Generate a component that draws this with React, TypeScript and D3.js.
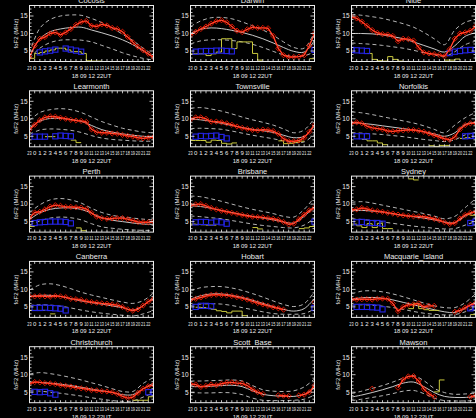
import React from "react";
import * as d3 from "d3";

const stations = [
  "Cocosis", "Darwin", "Niue",
  "Learmonth", "Townsville", "Norfolkis",
  "Perth", "Brisbane", "Sydney",
  "Canberra", "Hobart", "Macquarie_Island",
  "Christchurch", "Scott_Base", "Mawson",
];

const hourTicks = d3.range(-1, 23);
const hourLabels = hourTicks.map((h) => String((h + 24) % 24));
const curveHours = [-1, 1, 3, 5, 7, 9, 11, 13, 15, 17, 19, 21, 23];
const obsHours = d3.range(-1, 24);
const yTicks = [5, 10, 15];
const dateLabel = "18 09 12 22UT";
const yLabel = "foF2 (MHz)";

// monthly median curve (values at curveHours)
const medianCurves = [
  [3.4, 8.5, 10.5, 11.3, 11.7, 11.8, 11.0, 10.2, 9.3, 8.2, 6.8, 5.0, 3.2],
  [10, 11.2, 11.6, 11.4, 10.9, 10.3, 9.5, 8.5, 7.3, 6.0, 4.9, 4.7, 8.0],
  [10, 10, 9.9, 9.6, 9.1, 8.5, 7.6, 6.6, 5.6, 4.7, 6.5, 9.2, 10.2],
  [7.4, 9.3, 10.1, 10.1, 9.8, 9.3, 8.1, 6.9, 6.2, 5.7, 5.3, 5.0, 4.9],
  [9.9, 9.7, 9.3, 8.7, 8.1, 7.5, 7.0, 6.6, 6.1, 5.3, 4.6, 5.0, 8.0],
  [8.8, 8.7, 8.4, 8.0, 7.6, 7.2, 6.8, 6.3, 5.7, 5.0, 6.0, 8.4, 9.0],
  [5.6, 7.5, 8.5, 8.9, 8.9, 8.5, 7.4, 6.1, 5.4, 5.0, 4.6, 4.3, 4.2],
  [9.5, 9.3, 8.8, 8.2, 7.6, 7.0, 6.5, 6.0, 5.5, 4.9, 4.6, 6.5, 9.2],
  [8.1, 8.2, 8.0, 7.7, 7.2, 6.8, 6.4, 6.0, 5.5, 4.9, 4.7, 6.6, 7.9],
  [8.0, 8.3, 8.3, 8.0, 7.3, 6.7, 6.2, 5.8, 5.3, 4.8, 4.1, 5.4, 7.8],
  [7.2, 8.2, 8.7, 8.7, 8.3, 7.7, 6.9, 6.0, 5.1, 4.3, 3.8, 4.5, 7.4],
  [7.2, 7.6, 7.7, 7.5, 7.0, 6.3, 5.6, 4.9, 4.2, 3.6, 3.4, 4.6, 6.5],
  [7.8, 7.8, 7.6, 7.3, 6.9, 6.4, 5.9, 5.4, 4.9, 4.3, 4.3, 6.0, 7.6],
  [6.6, 6.6, 6.7, 6.9, 7.0, 6.6, 5.4, 4.4, 4.0, 3.8, 3.8, 4.4, 6.2],
  [3.6, 4.2, 4.9, 5.7, 6.6, 7.6, 7.9, 6.6, 4.9, 3.8, 3.5, 3.5, 3.7],
];

// upper quartile curve
const upperCurves = [
  [4.5, 11.5, 14.0, 15.0, 15.3, 15.2, 14.3, 13.1, 11.6, 9.8, 8.0, 5.8, 3.8],
  [12, 13.6, 14.5, 14.6, 14.2, 13.3, 12.2, 11.0, 9.5, 7.6, 6.0, 5.8, 10.5],
  [15.5, 15.2, 14.8, 14.3, 13.6, 12.8, 11.8, 10.3, 8.5, 6.8, 11.0, 13.2, 14.0],
  [9.5, 11.8, 12.6, 12.9, 12.6, 11.8, 10.5, 9.2, 8.2, 7.3, 6.7, 6.2, 6.0],
  [13.0, 13.2, 12.8, 12.2, 11.4, 10.5, 9.7, 9.0, 8.2, 7.1, 6.0, 6.8, 10.2],
  [12.0, 11.7, 11.2, 10.6, 10.0, 9.4, 8.8, 8.0, 7.0, 6.0, 8.2, 10.3, 11.8],
  [7.5, 9.8, 11.2, 11.6, 11.2, 10.3, 8.8, 7.6, 6.8, 6.3, 6.0, 5.7, 5.5],
  [12.3, 12.1, 11.5, 10.8, 10.0, 9.2, 8.5, 7.9, 7.3, 6.5, 6.3, 8.5, 12.0],
  [10.5, 10.7, 10.3, 9.7, 9.1, 8.5, 7.9, 7.3, 6.6, 5.8, 6.5, 9.0, 11.5],
  [9.8, 11.3, 11.6, 11.1, 10.2, 9.2, 8.4, 7.7, 7.0, 6.4, 6.0, 6.8, 9.0],
  [9.5, 10.5, 10.8, 10.8, 10.4, 9.7, 8.8, 7.8, 6.7, 5.7, 5.1, 5.9, 9.4],
  [8.7, 9.5, 9.6, 9.3, 8.7, 7.9, 7.0, 6.1, 5.3, 4.8, 4.8, 6.2, 8.8],
  [10.2, 10.6, 10.3, 9.8, 9.2, 8.5, 7.7, 6.9, 6.0, 5.2, 5.2, 7.5, 9.2],
  [8.2, 8.2, 8.3, 8.4, 8.5, 8.2, 6.9, 5.7, 5.3, 5.2, 5.4, 6.5, 8.8],
  [4.6, 5.3, 6.1, 6.9, 7.9, 9.0, 9.7, 8.3, 6.1, 4.9, 4.4, 4.5, 4.7],
];

// lower quartile curve
const lowerCurves = [
  [2.9, 5.8, 7.4, 8.1, 8.2, 8.1, 7.6, 6.6, 5.6, 4.5, 3.6, 2.9, 2.4],
  [7.0, 7.9, 8.2, 8.2, 8.0, 7.6, 6.9, 6.0, 4.9, 3.9, 3.5, 3.6, 4.8],
  [7.3, 7.1, 6.9, 6.6, 6.2, 5.8, 5.2, 4.5, 3.9, 3.4, 4.8, 6.8, 7.8],
  [5.5, 6.8, 7.1, 7.0, 6.7, 6.1, 5.2, 4.5, 4.1, 3.9, 3.7, 3.6, 3.6],
  [7.2, 7.3, 7.2, 7.0, 6.5, 5.9, 5.3, 4.8, 4.3, 3.7, 3.2, 3.4, 5.6],
  [6.0, 5.9, 5.7, 5.5, 5.2, 4.9, 4.5, 4.1, 3.8, 3.5, 4.0, 5.4, 6.0],
  [4.0, 5.2, 6.0, 6.3, 6.1, 5.5, 4.4, 3.5, 3.1, 2.8, 2.6, 2.5, 2.5],
  [6.6, 6.4, 6.1, 5.8, 5.3, 4.8, 4.3, 3.9, 3.6, 3.3, 3.2, 4.0, 6.0],
  [5.8, 5.6, 5.3, 4.9, 4.5, 4.1, 3.7, 3.4, 3.1, 2.9, 3.0, 4.0, 5.0],
  [5.4, 5.6, 5.5, 5.2, 4.7, 4.1, 3.6, 3.2, 2.9, 2.6, 2.4, 3.0, 4.0],
  [5.4, 5.8, 5.9, 5.8, 5.4, 4.8, 4.2, 3.6, 3.1, 2.9, 2.9, 3.1, 4.4],
  [5.5, 5.6, 5.5, 5.2, 4.8, 4.3, 3.7, 3.2, 2.9, 2.7, 2.8, 3.6, 4.8],
  [5.4, 5.3, 5.0, 4.7, 4.3, 3.9, 3.4, 3.0, 2.6, 2.4, 2.5, 3.6, 4.9],
  [4.9, 4.8, 4.8, 4.9, 4.8, 4.3, 3.3, 2.7, 2.6, 2.6, 2.7, 3.0, 4.2],
  [2.6, 3.0, 3.5, 4.0, 4.6, 5.3, 5.5, 4.6, 3.3, 2.6, 2.5, 2.5, 2.6],
];

// observed foF2 (values at obsHours, null = no data)
const observed = [
  [3.2, 6.5, 8.5, 9, 10, 10.3, 9.6, 10.3, 11.3, 12.5, 13.3, 13.6, 12.2, 12, 12.6, 12.3, 11.6, 11.3, 10.5, 9, 7.5, 6.2, 5.2, 4.2, 3.2],
  [9.5, 10.5, 11.3, 12.0, 12.8, 13.5, 13.8, 13.2, 12.0, 10.8, 10.4, 11.2, 11.8, 11.6, 11.6, 11.5, 9.3, 5.7, 3.8, 3.3, 3.3, 3.4, 3.8, 6.5, 10],
  [14.8, 14.3, 13.4, 12.2, 11, 10.2, 9.8, 9.7, 9.3, 7.8, 8.5, 8.4, 8, 6, 4.6, 4.3, 4.1, 3.9, 3.5, 5.5, 8.5, 10, 10.3, 10.8, 12],
  [6.9, 8.3, 9.6, 10.4, 10.7, 10.6, 10.3, 10.0, 9.7, 9.5, 9.4, 9.1, 7.0, 6.2, 6.0, 6.0, 5.8, 5.7, 5.4, 5.1, 4.9, 4.6, 4.4, 4.6, 4.8],
  [9.8, 10.4, 10.4, 10.0, 9.2, 9.2, 9.0, 8.7, 8.3, 7.8, 7.4, 7.1, 6.8, 6.7, 6.9, 6.8, 6.5, 5.7, 4.3, 3.6, 3.6, 3.8, 4.6, 6.3, 8.3],
  [8.8, 9.0, 8.7, 7.9, 7.4, 7.2, 7.0, 6.5, 6.4, 6.6, 6.7, 6.8, 6.8, 6.6, 6.3, 5.8, 5.3, 4.8, 4.3, 4.0, 4.8, 7.0, 8.2, 8.7, 8.8],
  [6.0, 7.6, 7.8, 8.5, 9.3, 9.7, 9.5, 9.2, 9.2, 9.1, 9.0, 8.6, 7.5, 6.4, 6.0, 5.8, 5.9, 6.0, 6.0, 5.7, 5.3, 4.9, 4.8, 4.8, 5.0],
  [9.7, 9.9, 10.0, 9.5, 8.9, 8.5, 8.1, 7.8, 7.5, 7.2, 6.9, 6.6, 6.4, 6.3, 6.2, 6.0, 5.8, 5.5, 4.9, 4.2, 4.4, 5.7, 7.0, 8.2, 9.0],
  [8.3, 8.5, 8.9, 8.6, 8.2, 8.0, 7.8, 7.5, 7.3, 7.0, 6.8, 6.6, 6.5, 6.5, 6.4, 6.1, 5.8, 5.4, 4.8, 4.3, 4.6, 5.9, 6.9, 7.5, 7.8],
  [8.0, 8.0, 8.1, 8.0, 7.9, 8.1, 8.0, 7.8, 7.3, 7.2, 7.0, 6.6, 6.4, 6.2, 6.0, 5.9, 5.7, 5.5, 5.0, 4.3, 3.9, 4.3, 5.4, 6.5, 7.3],
  [7.0, 7.3, 7.7, 8.1, 8.4, 8.5, 8.4, 8.3, 8.1, 7.8, 7.5, 7.1, 6.6, 6.1, 5.7, 5.3, 4.9, 4.6, 4.2, null, null, null, null, null, 6.3],
  [7.1, 7.1, 7.2, 7.2, 7.1, 7.3, 7.4, 7.3, 6.0, 3.8, 5.0, 5.6, 5.7, 6.0, 5.0, 5.3, 5.3, null, null, null, 3.6, 4.0, 4.8, 5.6, 6.0],
  [7.5, 7.9, 7.8, 7.6, 7.5, 7.3, 7.0, 6.8, 6.6, 6.3, 6.1, 5.9, 5.6, 5.5, 5.3, 5.2, 5.0, 4.5, 3.8, 3.3, 3.6, 4.8, 6.0, 6.7, 7.1],
  [7.3, 7.2, 6.5, 6.8, 7.2, 7.0, 7.4, 7.7, 7.8, 7.6, 7.5, 6.9, 5.8, 5.0, 4.5, null, null, 4.1, 4.0, 3.9, null, 4.1, 4.3, 5.0, 6.9],
  [null, null, null, null, 6.0, null, null, null, null, 6.3, 8.6, 9.5, 9.6, 8.2, 5.9, 4.5, 3.7, null, null, null, null, null, null, 3.7, 4.0],
];

// blue squares: [hour, value]
const blueMarks = [
  [[1, 4.6], [2, 4.9], [3, 5.1], [4, 5.4], [6, 5.7], [7, 5.4], [8, 5.1], [9, 4.8]],
  [[0, 4.8], [1, 4.9], [2, 5.0], [3, 5.0], [4, 5.1], [5, 5.1], [6, 5.0], [7, 4.9], [23, 5.3]],
  [[-1, 5.3], [0, 5.2], [1, 5.1], [2, 5.0], [18, 4.4], [19, 4.8], [20, 5.0], [21, 5.2], [22, 5.3], [23, 5.3]],
  [[0, 4.9], [1, 4.9], [2, 4.9], [4, 5.0], [5, 5.2], [6, 5.1], [7, 5.0]],
  [[0, 4.9], [1, 5.1], [2, 5.0], [3, 5.1], [4, 5.2], [5, 4.8], [6, 4.4]],
  [[0, 5.0], [1, 5.0], [2, 5.0], [21, 5.0], [22, 5.1], [23, 5.2]],
  [[0, 4.6], [1, 4.8], [2, 4.9], [3, 5.0], [4, 5.0], [5, 5.0], [6, 4.9], [7, 4.5]],
  [[0, 4.8], [1, 4.9], [2, 4.9], [3, 4.7], [4, 5.0], [5, 4.8], [6, 4.4], [23, 5.0]],
  [[0, 4.8], [1, 4.9], [2, 4.7], [3, 4.6], [4, 4.6], [5, 4.4], [22, 4.6], [23, 5.0]],
  [[0, 4.7], [1, 4.7], [2, 4.8], [3, 4.7], [4, 4.6], [5, 4.5], [6, 4.0]],
  [[0, 5.0], [1, 5.3], [2, 5.3], [3, 5.2], [23, 4.7]],
  [[0, 5.0], [1, 5.0], [2, 5.0], [3, 4.9], [4, 4.8], [5, 4.3], [22, 4.6], [23, 4.9]],
  [[0, 5.1], [1, 5.0], [2, 5.1], [3, 4.7], [4, 4.3], [22, 5.0], [23, 5.0]],
  [],
  [],
];

// yellow step values: [hour, value] for the hour starting at `hour`
const yellowSteps = [
  [[-1, 2.9], [0, 4.3], [1, 4.6], [2, 5.0], [3, 5.3], [4, 5.8], [5, 5.8], [6, 5.3], [7, 4.8], [8, 4.8], [9, 4.3], [10, 2.2], [11, 2.1], [12, 2.1]],
  [[-1, 4.2], [0, 4.2], [1, 4.2], [2, 3.7], [3, 4.2], [4, 4.7], [5, 8.5], [6, 8.5], [7, 5.7], [8, 7.6], [9, 7.6], [10, 7.6], [11, 4.3], [12, 2.4], [22, 2.8]],
  [[2, 4.3], [3, 2.6], [4, 2.2], [5, 2.1], [6, 3.4], [7, 2.6], [8, 2.1], [17, 2.4], [18, 2.4], [19, 2.7]],
  [[2, 4.9], [3, 4.9], [7, 3.9], [8, 3.2]],
  [[-1, 3.8], [0, 3.8], [1, 3.8], [2, 3.3], [3, 3.9], [4, 3.8], [5, 3.0], [6, 2.8], [7, 3.1], [16, 3.7], [17, 2.9], [18, 3.0], [19, 3.3], [20, 3.6]],
  [[1, 4.1], [2, 3.7], [3, 3.7], [4, 3.1], [5, 2.6], [14, 2.3], [15, 2.1], [16, 2.4], [17, 2.4], [20, 4.4], [21, 4.6]],
  [[-1, 3.6], [8, 3.2], [9, 2.4]],
  [[-1, 4.3], [0, 4.2], [1, 4.1], [2, 4.0], [3, 4.0], [11, 3.3], [12, 2.9], [20, 3.0], [21, 3.2], [22, 3.6]],
  [[-1, 4.3], [0, 3.8], [1, 3.3], [2, 4.4], [3, 3.3], [4, 4.5], [5, 3.0], [6, 3.0], [10, 17.2], [11, 16.9], [21, 7.0], [22, 6.8]],
  [[-1, 4.0], [0, 4.0], [1, 4.0], [3, 3.0]],
  [[0, 4.9], [1, 4.8], [2, 4.6], [3, 4.3], [4, 3.9], [5, 3.7], [6, 3.3], [7, 3.8], [8, 3.8], [9, 2.5]],
  [[10, 4.5], [11, 6.0], [12, 4.5], [13, 4.2], [14, 4.0], [15, 4.0], [22, 2.8]],
  [[19, 2.7], [20, 2.7], [21, 2.7], [22, 3.7]],
  [],
  [[15, 5.1], [16, 8.5]],
];

const W = 124;
const H = 56;
const FG = "#ececec";
const GREY = "#c8c8c8";
const RED = "#ff1a00";
const BLUE = "#2424e6";
const YELLOW = "#c8c83c";
const FONT = "'Liberation Sans', 'DejaVu Sans', sans-serif";

function stepRuns(steps: number[][]) {
  const runs: number[][][] = [];
  let cur: number[][] = [];
  let last: number | null = null;
  steps.forEach(([h, v]) => {
    if (last !== null && h !== last + 1) {
      runs.push(cur);
      cur = [];
    }
    cur.push([h, v]);
    last = h;
  });
  if (cur.length) runs.push(cur);
  return runs.map((run) => {
    const end = run[run.length - 1];
    return [...run, [end[0] + 1, end[1]]];
  });
}

function Panel({ i }: { i: number }) {
  const c = i % 3;
  const r = Math.floor(i / 3);
  const left = 29.5 + c * 161;
  const top = 5.5 + r * 85.3;
  const x = d3.scaleLinear().domain([-1, 23]).range([left, left + W]);
  const y = d3.scaleLinear().domain([2, 18]).range([top + H, top]);
  const smooth = d3
    .line<number>()
    .x((_, k) => x(curveHours[k]))
    .y((d) => y(d))
    .curve(d3.curveCatmullRom.alpha(0.5));
  const obsLine = d3
    .line<number | null>()
    .defined((d) => d !== null)
    .x((_, k) => x(obsHours[k]))
    .y((d) => y(d as number));
  const stepLine = d3
    .line<number[]>()
    .x((d) => x(d[0]))
    .y((d) => y(d[1]))
    .curve(d3.curveStepAfter);
  const clipId = `clip${i}`;
  const obs = observed[i];
  const minorY = d3.range(3, 18);
  return (
    <g>
      <clipPath id={clipId}>
        <rect x={left} y={top} width={W} height={H} />
      </clipPath>
      <text x={left + W / 2} y={top - 2.2} fill={FG} fontSize={7.5} textAnchor="middle" fontFamily={FONT}>
        {stations[i]}
      </text>
      <g clipPath={`url(#${clipId})`}>
        <path d={smooth(upperCurves[i]) || ""} fill="none" stroke={GREY} strokeWidth={0.9} strokeDasharray="4,3" />
        <path d={smooth(lowerCurves[i]) || ""} fill="none" stroke={GREY} strokeWidth={0.9} strokeDasharray="4,3" />
        <path d={smooth(medianCurves[i]) || ""} fill="none" stroke={GREY} strokeWidth={1} />
        {stepRuns(yellowSteps[i]).map((run, k) => (
          <path key={k} d={stepLine(run) || ""} fill="none" stroke={YELLOW} strokeWidth={1} />
        ))}
        {blueMarks[i].map(([h, v], k) => (
          <rect key={k} x={x(h) - 2.6} y={y(v) - 2.6} width={5.2} height={5.2} fill="none" stroke={BLUE} strokeWidth={1.1} />
        ))}
        <path d={obsLine(obs) || ""} fill="none" stroke={RED} strokeWidth={1.4} />
        <path d={obsLine(obs) || ""} fill="none" stroke="#ffb0a0" strokeWidth={0.4} />
        {obs.map((v, k) =>
          v === null ? null : (
            <path
              key={k}
              d={`M${x(obsHours[k])},${y(v) - 2.6}l2.6,2.6l-2.6,2.6l-2.6,-2.6z`}
              fill="none"
              stroke={RED}
              strokeWidth={0.8}
            />
          )
        )}
      </g>
      <rect x={left} y={top} width={W} height={H} fill="none" stroke={FG} strokeWidth={1} />
      {hourTicks.map((h) => (
        <g key={h}>
          <line x1={x(h)} x2={x(h)} y1={top + H} y2={top + H - 2.5} stroke={FG} strokeWidth={0.8} />
          <line x1={x(h)} x2={x(h)} y1={top} y2={top + 2.5} stroke={FG} strokeWidth={0.8} />
        </g>
      ))}
      {minorY.map((v) => {
        const len = v % 5 === 0 ? 4 : 2;
        return (
          <g key={v}>
            <line x1={left} x2={left + len} y1={y(v)} y2={y(v)} stroke={FG} strokeWidth={0.8} />
            <line x1={left + W} x2={left + W - len} y1={y(v)} y2={y(v)} stroke={FG} strokeWidth={0.8} />
          </g>
        );
      })}
      {yTicks.map((v) => (
        <text key={v} x={left - 2} y={y(v) + 2.3} fill={FG} fontSize={6.5} textAnchor="end" fontFamily={FONT}>
          {v}
        </text>
      ))}
      <text
        transform={`translate(${left - 12},${top + H / 2}) rotate(-90)`}
        fill={FG}
        fontSize={6}
        textAnchor="middle"
        fontFamily={FONT}
      >
        {yLabel}
      </text>
      {hourTicks.map((h, k) => {
        const lbl = hourLabels[k];
        return lbl.length > 1 ? (
          <text
            key={h}
            x={x(h)}
            y={top + H + 8.2}
            fill={FG}
            fontSize={6}
            textAnchor="middle"
            fontFamily={FONT}
            textLength={4.3}
            lengthAdjust="spacingAndGlyphs"
          >
            {lbl}
          </text>
        ) : (
          <text key={h} x={x(h)} y={top + H + 8.2} fill={FG} fontSize={6} textAnchor="middle" fontFamily={FONT}>
            {lbl}
          </text>
        );
      })}
      <text x={left + W / 2} y={top + H + 16} fill={FG} fontSize={6} textAnchor="middle" fontFamily={FONT}>
        {dateLabel}
      </text>
    </g>
  );
}

export default function App() {
  return (
    <svg
      width={476}
      height={418}
      style={{ position: "absolute", left: 0, top: 0, background: "#000", display: "block" }}
    >
      <rect x={0} y={0} width={476} height={418} fill="#000" />
      {stations.map((_, i) => (
        <Panel key={i} i={i} />
      ))}
    </svg>
  );
}
